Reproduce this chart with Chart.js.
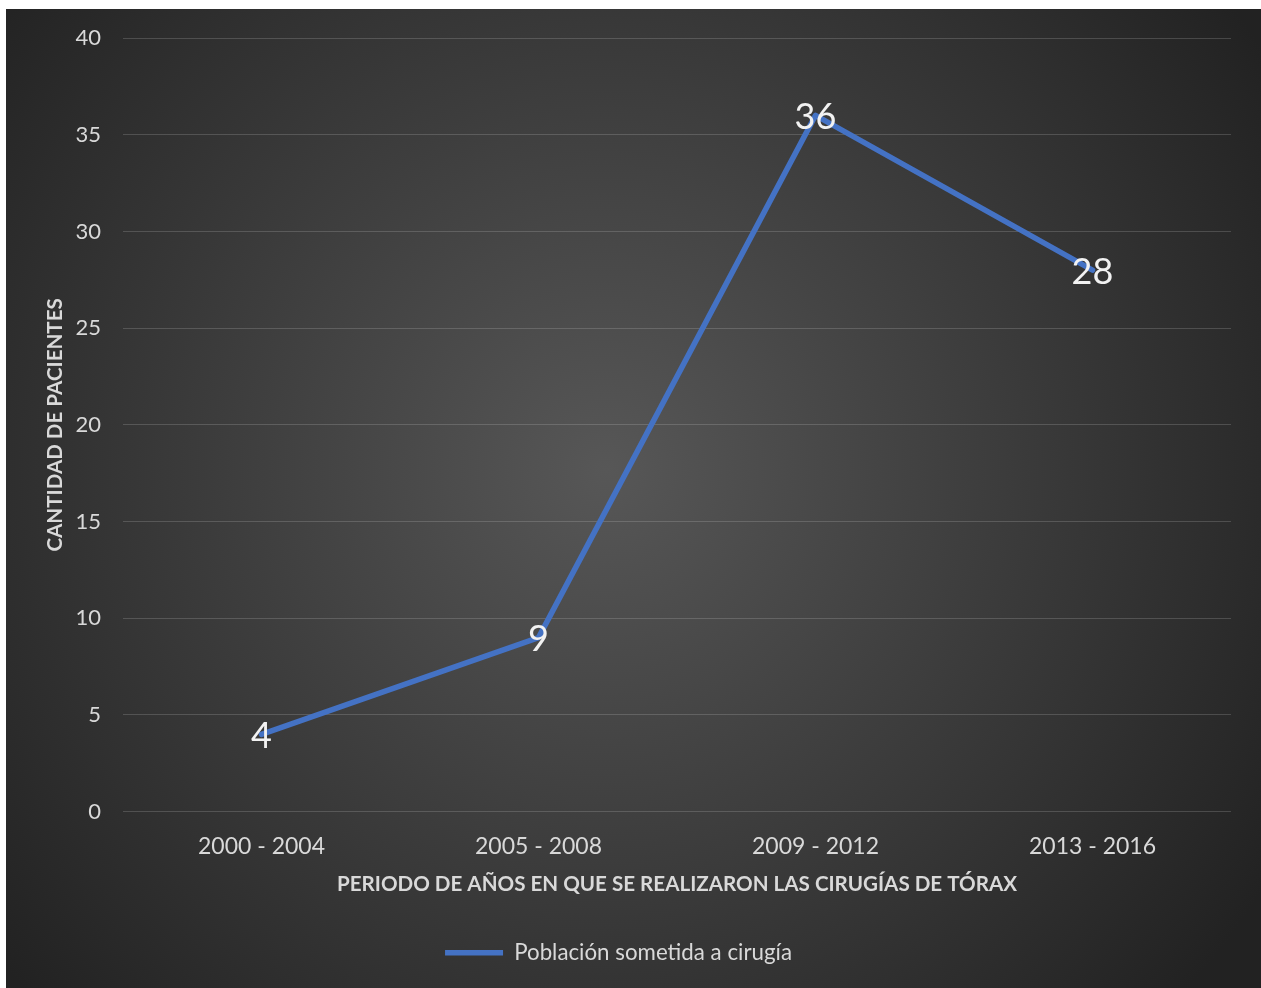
<!DOCTYPE html>
<html>
<head>
<meta charset="utf-8">
<script src="https://cdn.jsdelivr.net/npm/chart.js@4/dist/chart.umd.min.js"></script>
<style>
  html, body { margin: 0; padding: 0; background: #ffffff; overflow: hidden; }
  #wrap { position: absolute; left: 6px; top: 9px; width: 1255px; height: 979px; }
</style>
</head>
<body>
<div id="wrap"><canvas id="chart-1"></canvas></div>
<script>
// periods and patients per period
var periodos = ['2000 - 2004', '2005 - 2008', '2009 - 2012', '2013 - 2016'];
var pacientes = [4, 9, 36, 28];
var serieNombre = 'Población sometida a cirugía';
var yTicks = [0, 5, 10, 15, 20, 25, 30, 35, 40];

var fontName = 'Lato, "Open Sans", sans-serif';
var textColor = '#d9d9d9';

// dark radial background behind everything
var fondo = {
  id: 'fondo',
  beforeDraw: function (chart) {
    var ctx = chart.ctx;
    var w = chart.width, h = chart.height;
    var g = ctx.createRadialGradient(600, 461, 0, 600, 461, 780);
    g.addColorStop(0, '#575757');
    g.addColorStop(1, '#222222');
    ctx.save();
    ctx.fillStyle = g;
    ctx.fillRect(0, 0, w, h);
    ctx.restore();
  }
};

// value labels centred on the points
var etiquetas = {
  id: 'etiquetas',
  afterDatasetsDraw: function (chart) {
    var ctx = chart.ctx;
    var meta = chart.getDatasetMeta(0);
    ctx.save();
    ctx.font = '36px ' + fontName;
    ctx.fillStyle = '#f2f2f2';
    ctx.textAlign = 'center';
    ctx.textBaseline = 'middle';
    meta.data.forEach(function (pt, i) {
      ctx.fillText(String(pacientes[i]), pt.x, pt.y + 2);
    });
    ctx.restore();
  }
};

var chart = new Chart(document.getElementById('chart-1'), {
  type: 'line',
  data: {
    labels: periodos,
    datasets: [{
      label: serieNombre,
      data: pacientes,
      borderColor: '#4472c4',
      backgroundColor: '#4472c4',
      borderWidth: 5.5,
      borderCapStyle: 'round',
      borderJoinStyle: 'round',
      pointRadius: 0,
      pointHoverRadius: 0,
      tension: 0,
      fill: false
    }]
  },
  options: {
    responsive: true,
    maintainAspectRatio: false,
    animation: false,
    layout: { padding: { top: 29, right: 30, bottom: 14, left: 0 } },
    plugins: {
      tooltip: { enabled: false },
      legend: {
        position: 'bottom',
        labels: {
          usePointStyle: true,
          pointStyle: 'line',
          pointStyleWidth: 58,
          color: textColor,
          padding: 10,
          font: { family: fontName, size: 22.3 }
        }
      }
    },
    scales: {
      x: {
        offset: true,
        grid: { display: false, drawTicks: false },
        border: { display: false },
        ticks: {
          color: textColor,
          padding: 21,
          maxRotation: 0,
          font: { family: fontName, size: 23 }
        },
        title: {
          display: true,
          text: 'PERIODO DE AÑOS EN QUE SE REALIZARON LAS CIRUGÍAS DE TÓRAX',
          color: textColor,
          padding: { top: 0, bottom: 35 },
          font: { family: fontName, size: 20.6, weight: 'bold' }
        },
        afterFit: function (scale) { scale.height = 120; }
      },
      y: {
        min: 0,
        max: 40,
        afterBuildTicks: function (scale) {
          scale.ticks = yTicks.map(function (v) { return { value: v }; });
        },
        grid: { color: 'rgba(217,217,217,0.2)', lineWidth: 1, drawTicks: false },
        border: { display: false },
        ticks: {
          color: textColor,
          padding: 22,
          font: { family: fontName, size: 22 }
        },
        title: {
          display: true,
          text: 'CANTIDAD DE PACIENTES',
          color: textColor,
          padding: { top: 37, bottom: 0 },
          font: { family: fontName, size: 20.6, weight: 'bold' }
        },
        afterFit: function (scale) {
          scale.width = 117;
          scale.paddingTop = 0;
          scale.paddingBottom = 0;
        }
      }
    }
  },
  plugins: [fondo, etiquetas]
});
</script>
</body>
</html>
